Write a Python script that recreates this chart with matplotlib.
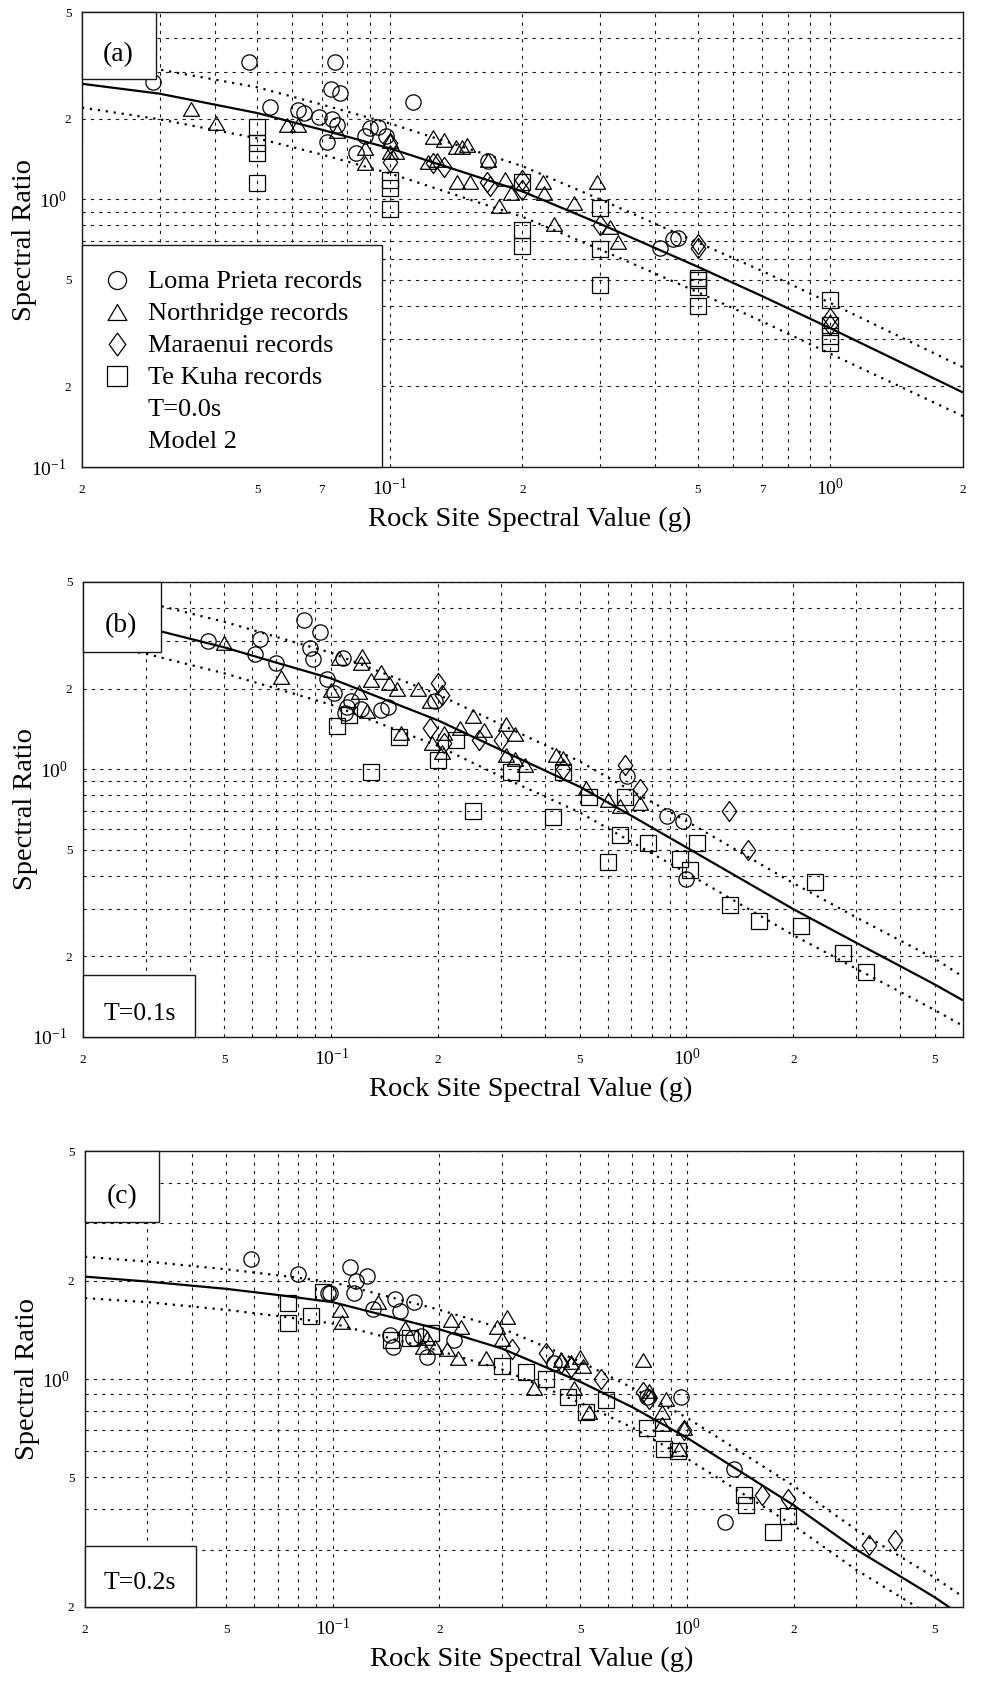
import matplotlib
matplotlib.use("Agg")
import matplotlib.pyplot as plt
from matplotlib.path import Path
from matplotlib.patches import Rectangle
from matplotlib.ticker import FixedLocator, FixedFormatter

plt.rcParams['font.family'] = ['Liberation Serif', 'DejaVu Serif']
plt.rcParams['mathtext.fontset'] = 'custom'
plt.rcParams['mathtext.rm'] = 'Liberation Serif'
plt.rcParams['mathtext.it'] = 'Liberation Serif:italic'

# ---------------- data: panel (a) T=0.0s ----------------
a_lp_x = [0.029, 0.048, 0.075, 0.0735, 0.077, 0.0535, 0.062, 0.064, 0.069, 0.074, 0.076, 0.072,
          0.084, 0.088, 0.090, 0.094, 0.098, 0.113, 0.167, 0.41, 0.44, 0.45]
a_lp_y = [2.75, 3.25, 3.25, 2.58, 2.49, 2.21, 2.15, 2.10, 2.03, 2.00, 1.90, 1.64,
          1.49, 1.72, 1.84, 1.86, 1.72, 2.31, 1.39, 0.66, 0.71, 0.72]
a_nr_x = [0.0354, 0.0403, 0.0584, 0.062, 0.076, 0.088, 0.088, 0.100, 0.100, 0.1035, 0.125, 0.133,
          0.141, 0.146, 0.150, 0.122, 0.128, 0.142, 0.152, 0.167, 0.183, 0.223, 0.224, 0.188,
          0.177, 0.262, 0.236, 0.295, 0.316, 0.33]
a_nr_y = [2.17, 1.93, 1.90, 1.90, 1.80, 1.56, 1.37, 1.65, 1.50, 1.50, 1.71, 1.67,
          1.57, 1.57, 1.60, 1.38, 1.40, 1.16, 1.16, 1.40, 1.19, 1.16, 1.06, 1.06,
          0.94, 0.97, 0.81, 1.16, 0.79, 0.69]
a_ma_x = [0.100, 0.100, 0.125, 0.133, 0.169, 0.166, 0.200, 0.200, 0.300, 0.500, 0.500, 1.0, 1.0]
a_ma_y = [1.62, 1.38, 1.37, 1.32, 1.12, 1.16, 1.08, 1.18, 0.80, 0.66, 0.68, 0.36, 0.34]
a_tk_x = [0.05, 0.05, 0.05, 0.05, 0.1, 0.1, 0.1, 0.2, 0.2, 0.2, 0.3, 0.3, 0.3,
          0.5, 0.5, 0.5, 0.5, 1.0, 1.0, 1.0, 1.0]
a_tk_y = [1.86, 1.62, 1.49, 1.15, 1.18, 1.10, 0.92, 1.16, 0.77, 0.67, 0.93, 0.65, 0.48,
          0.51, 0.50, 0.47, 0.40, 0.42, 0.34, 0.31, 0.29]
a_fit_x = [0.02, 0.03, 0.05, 0.07, 0.1, 0.2, 0.3, 0.5, 0.7, 1.0, 2.0]
a_fit_y = [2.70, 2.48, 2.10, 1.82, 1.55, 1.07, 0.81, 0.56, 0.435, 0.33, 0.19]
a_up_y = [3.35, 3.05, 2.62, 2.26, 1.92, 1.33, 1.00, 0.69, 0.54, 0.41, 0.236]
a_lo_y = [2.20, 1.99, 1.69, 1.47, 1.25, 0.86, 0.65, 0.45, 0.35, 0.265, 0.155]

# ---------------- data: panel (b) T=0.1s ----------------
b_lp_x = [0.045, 0.063, 0.061, 0.070, 0.084, 0.093, 0.087, 0.089, 0.097, 0.102, 0.108, 0.114,
          0.111, 0.109, 0.121, 0.138, 0.144, 0.196, 0.68, 0.88, 0.98, 1.0]
b_lp_y = [3.0, 3.05, 2.7, 2.5, 3.6, 3.25, 2.83, 2.57, 2.18, 1.92, 2.6, 1.8,
          1.7, 1.62, 1.68, 1.66, 1.71, 1.8, 0.94, 0.67, 0.64, 0.39]
b_nr_x = [0.05, 0.072, 0.105, 0.122, 0.121, 0.138, 0.129, 0.145, 0.153, 0.175, 0.10, 0.12,
          0.126, 0.19, 0.157, 0.192, 0.208, 0.23, 0.205, 0.25, 0.27, 0.31, 0.33, 0.31,
          0.33, 0.35, 0.43, 0.45, 0.52, 0.60, 0.65, 0.74]
b_nr_y = [2.95, 2.2, 2.6, 2.65, 2.5, 2.3, 2.15, 2.1, 2.0, 2.0, 1.97, 1.94,
          1.65, 1.8, 1.36, 1.25, 1.36, 1.42, 1.16, 1.58, 1.4, 1.48, 1.35, 1.13,
          1.09, 1.04, 1.13, 1.1, 0.85, 0.77, 0.73, 0.75]
b_ma_x = [0.2, 0.205, 0.19, 0.208, 0.26, 0.3, 0.45, 0.67, 0.74, 1.32, 1.49]
b_ma_y = [2.1, 1.9, 1.42, 1.25, 1.28, 1.28, 1.0, 1.04, 0.84, 0.7, 0.5]
b_tk_x = [0.104, 0.112, 0.129, 0.155, 0.225, 0.2, 0.25, 0.32, 0.42, 0.45, 0.53, 0.67,
          0.65, 0.78, 1.07, 0.6, 0.96, 1.02, 1.33, 1.6, 2.1, 2.3, 2.75, 3.2]
b_tk_y = [1.45, 1.6, 0.98, 1.32, 1.28, 1.08, 0.7, 0.98, 0.66, 0.98, 0.79, 0.79,
          0.57, 0.53, 0.53, 0.45, 0.46, 0.42, 0.31, 0.27, 0.26, 0.38, 0.205, 0.175]
b_fit_x = [0.02, 0.03, 0.05, 0.07, 0.1, 0.2, 0.3, 0.5, 0.7, 1.0, 2.0, 3.0, 5.0, 6.0]
b_fit_y = [3.7, 3.38, 2.85, 2.5, 2.18, 1.52, 1.18, 0.86, 0.67, 0.51, 0.30, 0.225, 0.157, 0.137]
b_up_y = [4.6, 4.2, 3.55, 3.12, 2.72, 1.9, 1.47, 1.07, 0.83, 0.64, 0.375, 0.28, 0.196, 0.168]
b_lo_y = [2.96, 2.7, 2.28, 2.0, 1.74, 1.22, 0.94, 0.69, 0.535, 0.41, 0.24, 0.18, 0.126, 0.11]

# ---------------- data: panel (c) T=0.2s ----------------
c_lp_x = [0.059, 0.08, 0.097, 0.098, 0.112, 0.116, 0.115, 0.125, 0.13, 0.15, 0.17, 0.155,
          0.145, 0.148, 0.168, 0.185, 0.178, 0.22, 0.42, 0.77, 0.96, 1.36, 1.28]
c_lp_y = [2.33, 2.1, 1.84, 1.84, 2.2, 2.0, 1.84, 2.07, 1.64, 1.76, 1.72, 1.62,
          1.36, 1.25, 1.34, 1.17, 1.35, 1.32, 1.12, 0.88, 0.88, 0.53, 0.365]
c_nr_x = [0.105, 0.106, 0.134, 0.16, 0.185, 0.18, 0.195, 0.215, 0.23, 0.21, 0.225, 0.31,
          0.29, 0.30, 0.27, 0.50, 0.47, 0.51, 0.44, 0.75, 0.37, 0.48, 0.53, 0.87,
          0.78, 0.85, 0.98, 0.95, 0.85]
c_nr_y = [1.63, 1.5, 1.72, 1.43, 1.34, 1.25, 1.25, 1.52, 1.44, 1.24, 1.16, 1.55,
          1.44, 1.33, 1.16, 1.17, 1.13, 1.1, 1.14, 1.14, 0.94, 0.94, 0.79, 0.87,
          0.92, 0.79, 0.71, 0.61, 0.73]
c_ma_x = [0.32, 0.40, 0.44, 0.47, 0.57, 0.75, 0.78, 0.98, 1.63, 1.92, 3.25, 3.85]
c_ma_y = [1.24, 1.2, 1.12, 1.09, 1.0, 0.91, 0.87, 0.7, 0.44, 0.43, 0.31, 0.32]
c_tk_x = [0.075, 0.075, 0.087, 0.094, 0.146, 0.165, 0.19, 0.30, 0.35, 0.40, 0.46, 0.59,
          0.52, 0.77, 0.86, 0.94, 1.45, 1.47, 1.92, 1.75]
c_tk_y = [1.71, 1.49, 1.56, 1.85, 1.32, 1.34, 1.38, 1.1, 1.05, 1.0, 0.88, 0.86,
          0.79, 0.71, 0.61, 0.6, 0.44, 0.41, 0.38, 0.34]
c_fit_x = [0.02, 0.03, 0.05, 0.07, 0.1, 0.2, 0.3, 0.5, 0.7, 1.0, 2.0, 3.0, 5.0, 6.0]
c_fit_y = [2.06, 1.99, 1.89, 1.81, 1.72, 1.42, 1.24, 0.98, 0.82, 0.66, 0.41, 0.30, 0.214, 0.187]
c_up_y = [2.37, 2.29, 2.17, 2.08, 1.98, 1.63, 1.43, 1.13, 0.94, 0.76, 0.47, 0.345, 0.246, 0.215]
c_lo_y = [1.77, 1.72, 1.63, 1.56, 1.48, 1.22, 1.07, 0.845, 0.71, 0.57, 0.355, 0.26, 0.185, 0.16]

# ---------------- ticks / labels ----------------
x_major = [0.1, 1.0]
x_major_labels = [r'$\mathregular{10^{-1}}$', r'$\mathregular{10^{0}}$']
xa_minor = [0.02, 0.03, 0.04, 0.05, 0.06, 0.07, 0.08, 0.09,
            0.2, 0.3, 0.4, 0.5, 0.6, 0.7, 0.8, 0.9, 2.0]
xa_minor_labels = ['2', '', '', '5', '', '7', '', '', '2', '', '', '5', '', '7', '', '', '2']
xbc_minor = [0.02, 0.03, 0.04, 0.05, 0.06, 0.07, 0.08, 0.09,
             0.2, 0.3, 0.4, 0.5, 0.6, 0.7, 0.8, 0.9, 2.0, 3.0, 4.0, 5.0]
xbc_minor_labels = ['2', '', '', '5', '', '', '', '', '2', '', '', '5', '', '', '', '',
                    '2', '', '', '5']
y_minor = [0.2, 0.3, 0.4, 0.5, 0.6, 0.7, 0.8, 0.9, 2.0, 3.0, 4.0, 5.0]
y_minor_labels = ['2', '', '', '5', '', '', '', '', '2', '', '', '5']
yab_major = [0.1, 1.0]
yab_major_labels = [r'$\mathregular{10^{-1}}$', r'$\mathregular{10^{0}}$']
yc_major = [1.0]
yc_major_labels = [r'$\mathregular{10^{0}}$']

legend_labels = ['Loma Prieta records', 'Northridge records', 'Maraenui records', 'Te Kuha records']
legend_extra = ['T=0.0s', 'Model 2']

# marker shapes
tri = Path([(-1, -0.85), (1, -0.85), (0, 0.85), (-1, -0.85)],
           [Path.MOVETO, Path.LINETO, Path.LINETO, Path.CLOSEPOLY])
dia = Path([(0, 1), (0.72, 0), (0, -1), (-0.72, 0), (0, 1)],
           [Path.MOVETO, Path.LINETO, Path.LINETO, Path.LINETO, Path.CLOSEPOLY])
MK = {'lp': ('o', 11), 'nr': (tri, 11.5), 'ma': (dia, 14.5), 'tk': ('s', 11)}

fig = plt.figure(figsize=(10.02, 16.85), dpi=100)
ax_a = fig.add_axes([0.0818, 0.7228, 0.8792, 0.2700])
ax_b = fig.add_axes([0.0828, 0.3846, 0.8782, 0.2700])
ax_c = fig.add_axes([0.0848, 0.0463, 0.8762, 0.2706])

grid_kw = dict(linestyle=(0, (3, 4.5)), linewidth=0.8, color='0.1')


def setup(ax, xlim, ylim, xminor, xminor_lab, ymajor, ymajor_lab):
    ax.set_xscale('log')
    ax.set_yscale('log')
    ax.set_xlim(*xlim)
    ax.set_ylim(*ylim)
    ax.xaxis.set_major_locator(FixedLocator(x_major))
    ax.xaxis.set_major_formatter(FixedFormatter(x_major_labels))
    ax.xaxis.set_minor_locator(FixedLocator(xminor))
    ax.xaxis.set_minor_formatter(FixedFormatter(xminor_lab))
    ax.yaxis.set_major_locator(FixedLocator(ymajor))
    ax.yaxis.set_major_formatter(FixedFormatter(ymajor_lab))
    ax.yaxis.set_minor_locator(FixedLocator(y_minor))
    ax.yaxis.set_minor_formatter(FixedFormatter(y_minor_labels))
    ax.tick_params(axis='both', which='both', length=0)
    ax.tick_params(axis='x', which='major', labelsize=14, pad=8)
    ax.tick_params(axis='x', which='minor', labelsize=9.5, pad=12.5)
    ax.tick_params(axis='y', which='major', labelsize=14, pad=11)
    ax.tick_params(axis='y', which='minor', labelsize=9.5, pad=7.5)
    ax.set_axisbelow(True)
    ax.grid(True, which='both', **grid_kw)
    for s in ax.spines.values():
        s.set_linewidth(1.0)
        s.set_color('0.1')
    ax.set_xlabel('Rock Site Spectral Value (g)', fontsize=20.5)
    ax.set_ylabel('Spectral Ratio', fontsize=20.5)
    ax.xaxis.set_label_coords(0.5085, -0.088)
    ax.yaxis.set_label_coords(-0.051, 0.5)


def draw(ax, series, fx, fy, fup, flo):
    ax.plot(fx, fy, color='black', lw=1.6, zorder=2, solid_capstyle='butt')
    ax.plot(fx, fup, color='black', lw=1.6, linestyle=(0, (1, 2.6)), zorder=2)
    ax.plot(fx, flo, color='black', lw=1.6, linestyle=(0, (1, 2.6)), zorder=2)
    for key, (xs, ys) in series.items():
        m, ms = MK[key]
        ax.plot(xs, ys, linestyle='none', marker=m, markersize=ms, mfc='none',
                mec='black', mew=0.9, zorder=3)


def box(ax, x0, y0, w, h, text=None, tx=None, ty=None, fs=20):
    ax.add_patch(Rectangle((x0, y0), w, h, transform=ax.transAxes, facecolor='white',
                           edgecolor='0.1', lw=1.0, zorder=10, clip_on=False))
    if text is not None:
        ax.text(tx, ty, text, transform=ax.transAxes, ha='center', va='baseline',
                fontsize=fs, zorder=11)


# panel (a)
setup(ax_a, (0.02, 2.0), (0.1, 5.0), xa_minor, xa_minor_labels, yab_major, yab_major_labels)
draw(ax_a, {'lp': (a_lp_x, a_lp_y), 'nr': (a_nr_x, a_nr_y), 'ma': (a_ma_x, a_ma_y),
            'tk': (a_tk_x, a_tk_y)}, a_fit_x, a_fit_y, a_up_y, a_lo_y)
box(ax_a, 0, 0.853, 0.084, 0.147, '(a)', 0.041, 0.892)
# legend box (a)
box(ax_a, 0, 0, 0.3405, 0.488)
leg_keys = ['lp', 'nr', 'ma', 'tk']
leg_ms = {'lp': 13, 'nr': 13.5, 'ma': 16.5, 'tk': 14}
row_base = [0.393, 0.323, 0.253, 0.182, 0.112, 0.042]
for i, k in enumerate(leg_keys):
    m, _ = MK[k]
    ax_a.plot([0.0397], [row_base[i] + 0.018], transform=ax_a.transAxes, linestyle='none',
              marker=m, markersize=leg_ms[k], mfc='none', mec='black', mew=0.9,
              zorder=12, clip_on=False)
    ax_a.text(0.075, row_base[i], legend_labels[i], transform=ax_a.transAxes,
              ha='left', va='baseline', fontsize=19, zorder=12)
for j, t in enumerate(legend_extra):
    ax_a.text(0.075, row_base[4 + j], t, transform=ax_a.transAxes,
              ha='left', va='baseline', fontsize=19, zorder=12)

# panel (b)
setup(ax_b, (0.02, 6.0), (0.1, 5.0), xbc_minor, xbc_minor_labels, yab_major, yab_major_labels)
draw(ax_b, {'lp': (b_lp_x, b_lp_y), 'nr': (b_nr_x, b_nr_y), 'ma': (b_ma_x, b_ma_y),
            'tk': (b_tk_x, b_tk_y)}, b_fit_x, b_fit_y, b_up_y, b_lo_y)
box(ax_b, 0, 0.846, 0.0886, 0.154, '(b)', 0.043, 0.89)
box(ax_b, 0, 0, 0.127, 0.136, 'T=0.1s', 0.065, 0.037, fs=18.5)

# panel (c)
setup(ax_c, (0.02, 6.0), (0.2, 5.0), xbc_minor, xbc_minor_labels, yc_major, yc_major_labels)
draw(ax_c, {'lp': (c_lp_x, c_lp_y), 'nr': (c_nr_x, c_nr_y), 'ma': (c_ma_x, c_ma_y),
            'tk': (c_tk_x, c_tk_y)}, c_fit_x, c_fit_y, c_up_y, c_lo_y)
box(ax_c, 0, 0.844, 0.0843, 0.156, '(c)', 0.042, 0.886)
box(ax_c, 0, 0, 0.126, 0.134, 'T=0.2s', 0.0626, 0.039, fs=18.5)

fig.savefig('out.png', dpi=100)
